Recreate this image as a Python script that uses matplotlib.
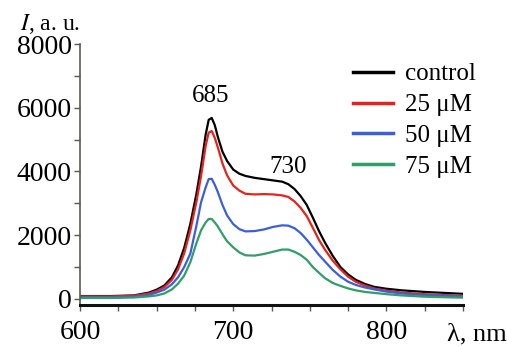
import matplotlib

matplotlib.use("Agg")
import matplotlib.pyplot as plt
from matplotlib.ticker import MultipleLocator

# wavelength grid (nm) and emission intensity (a. u.)
WAVELENGTH = [600, 620, 635, 645, 650, 655, 660, 664, 668, 672, 676, 679, 682, 684,
              686, 688, 690, 693, 696, 700, 704, 708, 714, 720, 726, 732, 736, 740,
              744, 748, 752, 756, 760, 765, 770, 775, 780, 786, 792, 800, 810, 825, 850]
CONTROL = [90, 90, 110, 200, 290, 420, 680, 1050, 1600, 2350, 3300, 4150, 5150, 5620,
           5680, 5450, 5080, 4620, 4330, 4060, 3930, 3860, 3800, 3760, 3720, 3680, 3600, 3450,
           3230, 2950, 2550, 2130, 1760, 1350, 1000, 770, 600, 470, 380, 320, 270, 220, 160]
UM25 = [80, 80, 100, 170, 250, 370, 600, 930, 1430, 2150, 3050, 3850, 4800, 5220,
        5270, 5050, 4750, 4250, 3880, 3560, 3400, 3300, 3280, 3290, 3280, 3250, 3200, 3060,
        2860, 2600, 2230, 1850, 1540, 1200, 930, 700, 540, 420, 330, 260, 200, 150, 100]
UM50 = [50, 50, 70, 130, 200, 290, 460, 680, 1000, 1420, 2300, 3030, 3500, 3760,
        3770, 3580, 3350, 2950, 2620, 2350, 2190, 2120, 2130, 2180, 2260, 2310, 2300, 2220,
        2070, 1860, 1620, 1380, 1170, 910, 700, 540, 440, 360, 300, 230, 170, 120, 80]
UM75 = [30, 30, 45, 80, 110, 170, 300, 480, 730, 1150, 1750, 2150, 2400, 2510,
        2510, 2400, 2270, 2030, 1810, 1620, 1460, 1370, 1360, 1410, 1480, 1550, 1550, 1480,
        1380, 1230, 1000, 820, 650, 500, 410, 330, 270, 220, 190, 150, 110, 70, 40]

SERIES = [("control", CONTROL, "#000000"),
          ("25 \u03bcM", UM25, "#e8221a"),
          ("50 \u03bcM", UM50, "#3b5ee0"),
          ("75 \u03bcM", UM75, "#2f9e68")]

PEAKS = [(685, "685"), (730, "730")]

W, H = 507, 347
plt.rcParams["font.family"] = ["Liberation Serif", "DejaVu Serif"]
plt.rcParams["mathtext.fontset"] = "stix"


def px(x, y):
    return x / W, 1 - y / H


fig = plt.figure(figsize=(W / 100, H / 100), dpi=100)
l, b = px(80, 305)
r, t = px(463, 44)
ax = fig.add_axes([l, b, r - l, t - b])

for name, vals, col in SERIES:
    ax.plot(WAVELENGTH, vals, color=col, lw=1.6, label=name, solid_joinstyle="round")

ax.set_xlim(600, 850)
ax.set_ylim(-190, 8000)
ax.xaxis.set_major_locator(MultipleLocator(100))
ax.xaxis.set_minor_locator(MultipleLocator(25))
ax.yaxis.set_major_locator(MultipleLocator(2000))
ax.yaxis.set_minor_locator(MultipleLocator(1000))
ax.spines["top"].set_visible(False)
ax.spines["right"].set_visible(False)
ax.spines["left"].set_color("#5a5a50")
ax.spines["left"].set_linewidth(1.2)
ax.spines["bottom"].set_color("#111111")
ax.spines["bottom"].set_linewidth(2.2)
ax.tick_params(which="both", direction="out", length=4, width=1, color="#5a5a50",
               labelsize=20)
ax.tick_params(axis="x", pad=7)
ax.tick_params(axis="y", pad=2)

ax.legend(loc="upper left", bbox_to_anchor=px(353, 63), bbox_transform=fig.transFigure,
          frameon=False, fontsize=18, handlelength=1.6, handletextpad=0.48,
          labelspacing=0.33, borderpad=0, borderaxespad=0)
for line in ax.get_legend().get_lines():
    line.set_linewidth(2.5)

# peak labels
peak_pos = {685: (211, 96), 730: (288, 167)}
for wl, txt in PEAKS:
    x, y = px(*peak_pos[wl])
    fig.text(x, y, txt, ha="center", va="center", fontsize=18)

x, y = px(20, 30)
fig.text(x, y, r"$I$, a. u.", ha="left", va="baseline", fontsize=17)
x, y = px(507, 334)
fig.text(x, y, "\u03bb, nm", ha="right", va="center", fontsize=19)

fig.savefig("out.png", dpi=100)
